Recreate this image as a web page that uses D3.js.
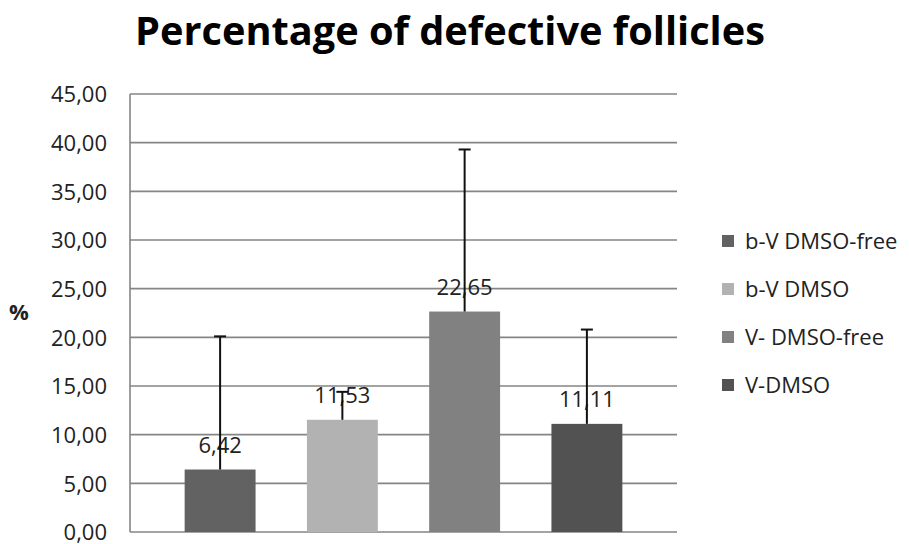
<!DOCTYPE html>
<html>
<head>
<meta charset="utf-8">
<script src="https://cdn.jsdelivr.net/npm/d3@7"></script>
<style>
html,body{margin:0;padding:0;background:#fff;}
svg{display:block;}
text{font-family:"Open Sans","DejaVu Sans",sans-serif;}
</style>
</head>
<body>
<svg id="chart" width="909" height="544"></svg>
<script>
const title = "Percentage of defective follicles";
const seriesNames = ["b-V DMSO-free", "b-V DMSO", "V- DMSO-free", "V-DMSO"];
const values = [6.42, 11.53, 22.65, 11.11];
const errorTops = [20.1, 14.4, 39.3, 20.8];
const valueLabels = ["6,42", "11,53", "22,65", "11,11"];
const yTicks = [0, 5, 10, 15, 20, 25, 30, 35, 40, 45];
const yTickLabels = ["0,00", "5,00", "10,00", "15,00", "20,00", "25,00", "30,00", "35,00", "40,00", "45,00"];
const colors = ["#626262", "#b2b2b2", "#818181", "#525252"];

const svg = d3.select("#chart");
const plot = {left: 130, right: 677, top: 94, bottom: 532};
const FS = 22;

const y = d3.scaleLinear().domain([0, 45]).range([plot.bottom, plot.top]);
const x = d3.scaleBand().domain(seriesNames).range([plot.left, plot.right])
  .paddingInner(0.42).paddingOuter(0.447);

// gridlines
svg.append("g").selectAll("line").data(yTicks).join("line")
  .attr("x1", plot.left).attr("x2", plot.right)
  .attr("y1", d => y(d)).attr("y2", d => y(d))
  .attr("stroke", "#858585").attr("stroke-width", 1.6);
// left axis line
svg.append("line").attr("x1", plot.left).attr("x2", plot.left)
  .attr("y1", y(45)).attr("y2", y(0)).attr("stroke", "#858585").attr("stroke-width", 1.6);

// y axis labels
const yAxis = d3.axisLeft(y).tickValues(yTicks).tickSize(0).tickPadding(0)
  .tickFormat((d, i) => yTickLabels[i]);
const ga = svg.append("g").attr("transform", `translate(107,0)`).call(yAxis);
ga.select(".domain").remove();
ga.selectAll("text").attr("font-size", FS).attr("fill", "#222")
  .attr("font-family", "'Open Sans','DejaVu Sans',sans-serif").attr("dy", "0.35em");

svg.append("text").attr("x", 19).attr("y", 312).attr("dy", "0.35em").attr("text-anchor", "middle")
  .attr("font-size", FS).attr("font-weight", "bold").attr("fill", "#222").text("%");

// bars
svg.append("g").selectAll("rect").data(seriesNames).join("rect")
  .attr("x", d => x(d)).attr("width", x.bandwidth())
  .attr("y", (d, i) => y(values[i])).attr("height", (d, i) => y(0) - y(values[i]))
  .attr("fill", (d, i) => colors[i]);

// value labels
svg.append("g").selectAll("text").data(seriesNames).join("text")
  .attr("x", d => x(d) + x.bandwidth() / 2).attr("y", (d, i) => y(values[i]) - 17)
  .attr("text-anchor", "middle").attr("font-size", FS).attr("fill", "#222")
  .text((d, i) => valueLabels[i]);

// error bars
const eg = svg.append("g").attr("stroke", "#111").attr("stroke-width", 2);
seriesNames.forEach((d, i) => {
  const cx = x(d) + x.bandwidth() / 2;
  eg.append("line").attr("x1", cx).attr("x2", cx).attr("y1", y(values[i])).attr("y2", y(errorTops[i]));
  eg.append("line").attr("x1", cx - 6).attr("x2", cx + 6).attr("y1", y(errorTops[i])).attr("y2", y(errorTops[i]));
});

// title
const t = svg.append("text").attr("x", 450).attr("y", 45).attr("text-anchor", "middle")
  .attr("font-size", 38).attr("font-weight", "bold").attr("fill", "#000").text(title);
const w = t.node().getComputedTextLength();
t.attr("font-size", 38 * 630 / w);

// legend
const lg = svg.append("g");
const legY = [241, 289, 337, 385];
seriesNames.forEach((d, i) => {
  lg.append("rect").attr("x", 722).attr("y", legY[i] - 6).attr("width", 12).attr("height", 12).attr("fill", colors[i]);
  lg.append("text").attr("x", 745).attr("y", legY[i]).attr("dy", "0.35em")
    .attr("font-size", FS).attr("fill", "#222").text(d);
});
</script>
</body>
</html>
